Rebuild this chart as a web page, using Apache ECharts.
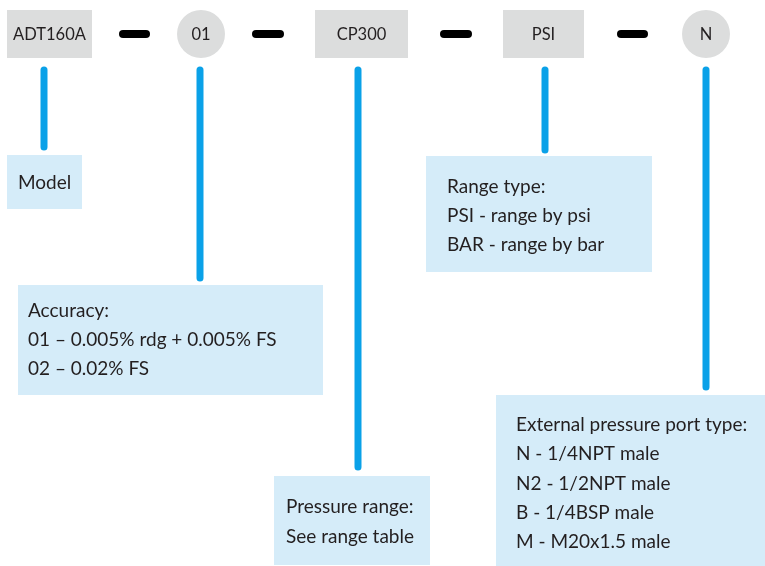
<!DOCTYPE html>
<html>
<head>
<meta charset="utf-8">
<script src="https://cdn.jsdelivr.net/npm/echarts@6/dist/echarts.min.js"></script>
<style>
  html, body { margin: 0; padding: 0; background: #fff; }
  #main { width: 765px; height: 566px; }
</style>
</head>
<body>
<div id="main"></div>
<script>
// order code parts
const codes = ['ADT160A', '01', 'CP300', 'PSI', 'N'];
const codeShapes = ['box', 'circle', 'box', 'box', 'circle'];
// description of each part
const descLines = [
  ['Model'],
  ['Accuracy:', '01 – 0.005% rdg + 0.005% FS', '02 – 0.02% FS'],
  ['Pressure range:', 'See range table'],
  ['Range type:', 'PSI - range by psi', 'BAR - range by bar'],
  ['External pressure port type:', 'N - 1/4NPT male', 'N2 - 1/2NPT male', 'B - 1/4BSP male', 'M - M20x1.5 male']
];

// layout (in chart units = px of the 765x566 canvas)
const codeX = [[7, 92], [177, 225], [315, 408], [503, 584], [682, 730]];
const codeY = [10, 58];
const dashX = [[123, 146], [256, 280], [444, 468], [621, 644]];
const dashY = 34;
const leadX = [44, 200, 358, 545, 706];
const leadTop = 70;
const leadBottom = [147, 278, 467, 150, 387];
const descBox = [[7, 155, 82, 209], [18, 285, 323, 395], [274, 476, 430, 565], [426, 156, 652, 272], [496, 395, 765, 566]];
const textX = [18, 28, 286, 447, 516];
const textY = [183, 311, 507, 187, 425];
const lineGap = [29, 29, 30, 29, 29.2];

const FONT = 'Lato, "Open Sans", sans-serif';
const GRAY = '#dcdddd', LIGHT = '#d5ecf9', BLUE = '#0aa1e8', INK = '#231f20';

let myChart = echarts.init(document.getElementById('main'));

function codeItem(params, api) {
  let i = params.dataIndex;
  let p0 = api.coord([codeX[i][0], codeY[0]]);
  let p1 = api.coord([codeX[i][1], codeY[1]]);
  let cx = (p0[0] + p1[0]) / 2, cy = (p0[1] + p1[1]) / 2;
  let shape = codeShapes[i] === 'box'
    ? { type: 'rect', shape: { x: p0[0], y: p0[1], width: p1[0] - p0[0], height: p1[1] - p0[1] }, style: { fill: GRAY } }
    : { type: 'circle', shape: { cx: cx, cy: cy, r: (p1[0] - p0[0]) / 2 }, style: { fill: GRAY } };
  return {
    type: 'group',
    children: [
      shape,
      { type: 'text', style: { text: codes[i], x: cx, y: cy + 1, align: 'center', verticalAlign: 'middle', font: '16.5px ' + FONT, fill: INK } }
    ]
  };
}

function dashItem(params, api) {
  let i = params.dataIndex;
  let a = api.coord([dashX[i][0], dashY]);
  let b = api.coord([dashX[i][1], dashY]);
  return { type: 'line', shape: { x1: a[0], y1: a[1], x2: b[0], y2: b[1] }, style: { stroke: '#000', lineWidth: 8, lineCap: 'round' } };
}

function leadItem(params, api) {
  let i = params.dataIndex;
  let a = api.coord([leadX[i], leadTop]);
  let b = api.coord([leadX[i], leadBottom[i]]);
  return { type: 'line', shape: { x1: a[0], y1: a[1], x2: b[0], y2: b[1] }, style: { stroke: BLUE, lineWidth: 7, lineCap: 'round' } };
}

function descItem(params, api) {
  let i = params.dataIndex;
  let b = descBox[i];
  let p0 = api.coord([b[0], b[1]]);
  let p1 = api.coord([b[2], b[3]]);
  let children = [{ type: 'rect', shape: { x: p0[0], y: p0[1], width: p1[0] - p0[0], height: p1[1] - p0[1] }, style: { fill: LIGHT } }];
  descLines[i].forEach(function (t, k) {
    let p = api.coord([textX[i], textY[i] + k * lineGap[i]]);
    children.push({ type: 'text', style: { text: t, x: p[0], y: p[1], align: 'left', verticalAlign: 'middle', font: '19px ' + FONT, fill: INK } });
  });
  return { type: 'group', children: children };
}

let option = {
  animation: false,
  grid: { left: 0, right: 0, top: 0, bottom: 0 },
  xAxis: { type: 'value', min: 0, max: 765, show: false },
  yAxis: { type: 'value', min: 0, max: 566, inverse: true, show: false },
  series: [
    { type: 'custom', renderItem: descItem, data: descLines.map((d, i) => [i]), silent: true },
    { type: 'custom', renderItem: leadItem, data: leadX.map((d, i) => [i]), silent: true },
    { type: 'custom', renderItem: dashItem, data: dashX.map((d, i) => [i]), silent: true },
    { type: 'custom', renderItem: codeItem, data: codes.map((d, i) => [i]), silent: true }
  ]
};
myChart.setOption(option);
</script>
</body>
</html>
